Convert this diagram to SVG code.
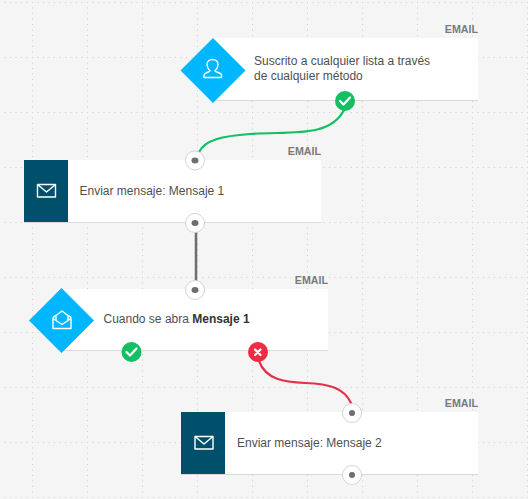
<svg xmlns="http://www.w3.org/2000/svg" width="528" height="499" viewBox="0 0 528 499">
<style>
.card{fill:#fff}
.edge{fill:#d9d9d9}
.dark{fill:#00506b}
.dia{fill:#00b7ff}
.ic{fill:none;stroke:#fff;stroke-width:1.4;stroke-linejoin:round}
.t{font-family:"Liberation Sans",Arial,sans-serif;font-size:12px;fill:#4f4f4f}
.tag{font-family:"Liberation Sans",Arial,sans-serif;font-size:10.700px;font-weight:bold;fill:#7a7a7a;text-anchor:end}
.port{fill:#fff;stroke:#d4d4d4;stroke-width:1}
.pd{fill:#6e6e6e}
.mk{fill:none;stroke:#fff;stroke-width:2.2;stroke-linecap:round;stroke-linejoin:round}
</style>
<defs>
<pattern id="grid" x="32" y="2" width="55" height="55" patternUnits="userSpaceOnUse">
<path d="M0.5 0V55" stroke="#cdcdcd" stroke-width="1" stroke-dasharray="1 4.5" fill="none"/>
<path d="M0 0.5H55" stroke="#cdcdcd" stroke-width="1" stroke-dasharray="1 4.5" fill="none"/>
</pattern>
</defs>
<rect width="528" height="499" fill="#f5f5f5"/>
<rect width="528" height="499" fill="url(#grid)"/>
<g id="n1">
<rect class="edge" x="213" y="39" width="265" height="62"/>
<rect class="card" x="213" y="38" width="265" height="62"/>
<path class="dia" d="M213 38L245.500 70.500L213 103L180.500 70.500Z"/>
<path class="ic" d="M204 77.500v-2.600c0-2 5-2.500 6-4.100c-1.800-1.700-3-3.600-3-6.300c0-3 2.500-5 5.500-5s5.500 2 5.500 5c0 2.700-1.200 4.600-3 6.300c1 1.600 6.500 2.100 6.500 4.100v2.600Z"/>
<text class="t" x="254" y="65">Suscrito a cualquier lista a través</text>
<text class="t" x="254" y="80">de cualquier método</text>
<text class="tag" x="478" y="33">EMAIL</text>
</g>
<g id="n2">
<rect class="edge" x="24" y="161" width="297" height="62"/>
<rect class="card" x="24" y="160" width="297" height="62"/>
<rect class="dark" x="24" y="160" width="44" height="62"/>
<path class="ic" d="M37.500 184.500h18v12.500h-18ZM37.500 184.500L46.500 192L55.500 184.500"/>
<text class="t" x="79.500" y="195">Enviar mensaje: Mensaje 1</text>
<text class="tag" x="321" y="155">EMAIL</text>
</g>
<g id="n3">
<rect class="edge" x="62" y="290" width="266" height="61"/>
<rect class="card" x="62" y="289" width="266" height="61"/>
<path class="dia" d="M61.500 288L94 320.500L61.500 353L29 320.500Z"/>
<path class="ic" d="M53 328.500V318.500L62 324.500L71 318.500V328.500ZM53 318.500Q53 316.500 56 315.500L62 311L68 315.500Q71 316.500 71 318.500M56 315.500V320.500M68 315.500V320.500"/>
<text class="t" x="103.500" y="323">Cuando se abra <tspan font-weight="bold" fill="#333">Mensaje 1</tspan></text>
<text class="tag" x="328" y="284">EMAIL</text>
</g>
<g id="n4">
<rect class="edge" x="181" y="413" width="297" height="62"/>
<rect class="card" x="181" y="412" width="297" height="62"/>
<rect class="dark" x="181" y="412" width="44" height="62"/>
<path class="ic" d="M195 436.500h18v12.500h-18ZM195 436.500L204 444L213 436.500"/>
<text class="t" x="237" y="447">Enviar mensaje: Mensaje 2</text>
<text class="tag" x="478" y="407">EMAIL</text>
</g>
<g id="connectors" fill="none" stroke-linecap="round">
<path d="M344 110C330 138 290 131 250 134C222 136 205 140 199 152" stroke="#12bf63" stroke-width="2.200"/>
<path d="M196 232V281" stroke="#6e6e6e" stroke-width="2.500"/>
<path d="M259 361C266 380 285 382 305 383C330 384 344 388 351 403" stroke="#e5304a" stroke-width="2.200"/>
</g>
<g id="ports">
<circle class="port" cx="195" cy="160.500" r="9.500"/><ellipse class="pd" cx="195" cy="160.500" rx="3.500" ry="3"/>
<circle class="port" cx="195" cy="223" r="9.500"/><ellipse class="pd" cx="195" cy="223" rx="3.500" ry="3"/>
<circle class="port" cx="195" cy="290" r="9.500"/><ellipse class="pd" cx="195" cy="290" rx="3.500" ry="3"/>
<circle class="port" cx="352" cy="413" r="9.500"/><circle class="pd" cx="352" cy="413" r="3"/>
<circle class="port" cx="352" cy="475" r="9.500"/><circle class="pd" cx="352" cy="475" r="3"/>
</g>
<g id="badges">
<circle cx="345" cy="101" r="10" fill="#12bf63"/><path class="mk" d="M340 101l3.500 3.500l6.500-7"/>
<circle cx="131.500" cy="352" r="10" fill="#12bf63"/><path class="mk" d="M126.500 352l3.500 3.500l6.500-7"/>
<circle cx="258" cy="352" r="10" fill="#f02c42"/><path class="mk" d="M255 349.500l5.500 5.500M260.500 349.500l-5.500 5.500"/>
</g>
</svg>
